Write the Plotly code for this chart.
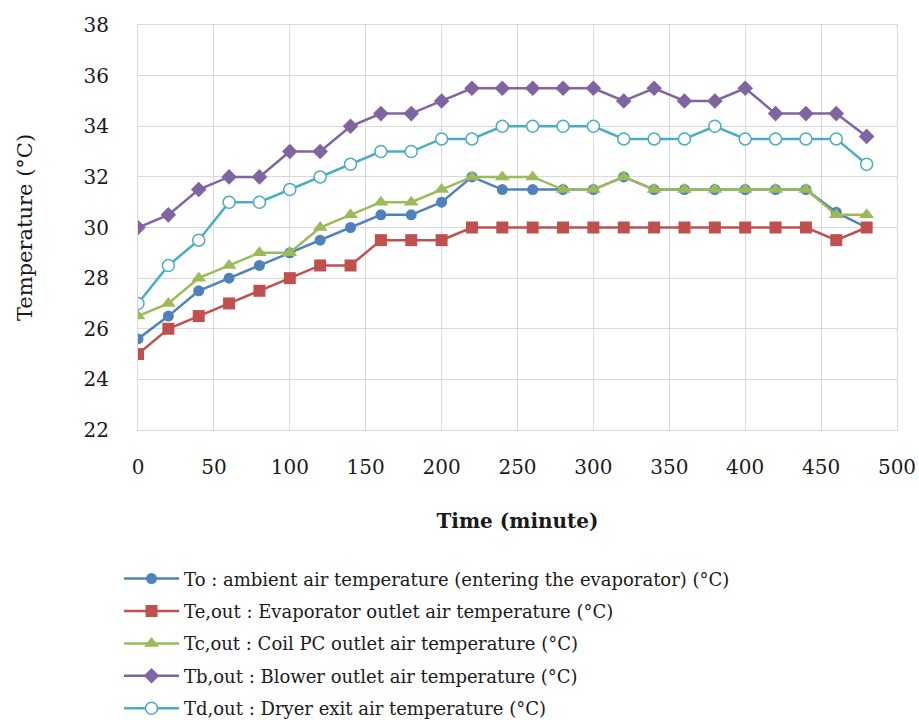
import plotly.graph_objects as go

time_min = [0, 20, 40, 60, 80, 100, 120, 140, 160, 180, 200, 220, 240,
            260, 280, 300, 320, 340, 360, 380, 400, 420, 440, 460, 480]

t_o = [25.6, 26.5, 27.5, 28.0, 28.5, 29.0, 29.5, 30.0, 30.5, 30.5, 31.0, 32.0, 31.5,
       31.5, 31.5, 31.5, 32.0, 31.5, 31.5, 31.5, 31.5, 31.5, 31.5, 30.6, 30.0]
t_e_out = [25.0, 26.0, 26.5, 27.0, 27.5, 28.0, 28.5, 28.5, 29.5, 29.5, 29.5, 30.0, 30.0,
           30.0, 30.0, 30.0, 30.0, 30.0, 30.0, 30.0, 30.0, 30.0, 30.0, 29.5, 30.0]
t_c_out = [26.5, 27.0, 28.0, 28.5, 29.0, 29.0, 30.0, 30.5, 31.0, 31.0, 31.5, 32.0, 32.0,
           32.0, 31.5, 31.5, 32.0, 31.5, 31.5, 31.5, 31.5, 31.5, 31.5, 30.5, 30.5]
t_b_out = [30.0, 30.5, 31.5, 32.0, 32.0, 33.0, 33.0, 34.0, 34.5, 34.5, 35.0, 35.5, 35.5,
           35.5, 35.5, 35.5, 35.0, 35.5, 35.0, 35.0, 35.5, 34.5, 34.5, 34.5, 33.6]
t_d_out = [27.0, 28.5, 29.5, 31.0, 31.0, 31.5, 32.0, 32.5, 33.0, 33.0, 33.5, 33.5, 34.0,
           34.0, 34.0, 34.0, 33.5, 33.5, 33.5, 34.0, 33.5, 33.5, 33.5, 33.5, 32.5]

names = [
    "To : ambient air temperature (entering the evaporator) (°C)",
    "Te,out : Evaporator outlet air temperature (°C)",
    "Tc,out : Coil PC outlet air temperature (°C)",
    "Tb,out : Blower outlet air temperature (°C)",
    "Td,out : Dryer exit air temperature (°C)",
]
y_ticks = [22, 24, 26, 28, 30, 32, 34, 36, 38]
x_ticks = [0, 50, 100, 150, 200, 250, 300, 350, 400, 450, 500]

series = [t_o, t_e_out, t_c_out, t_b_out, t_d_out]
colors = ["#4F81BD", "#C0504D", "#9BBB59", "#8064A2", "#4BACC6"]
symbols = ["circle", "square", "triangle-up", "diamond", "circle"]
sizes = [11, 12, 13, 12, 12]

fig = go.Figure()
for i, (vals, nm, c, s, sz) in enumerate(zip(series, names, colors, symbols, sizes)):
    if i == 4:
        marker = dict(symbol=s, size=sz, color="white", line=dict(color=c, width=1.5))
    else:
        marker = dict(symbol=s, size=sz, color=c, line=dict(width=0))
    fig.add_trace(go.Scatter(
        x=time_min, y=vals, name=nm, mode="lines+markers",
        line=dict(color=c, width=2.5), marker=marker,
        legendgroup=str(i),
    ))

serif = "DejaVu Serif"
fig.update_layout(
    width=919, height=720,
    margin=dict(l=138, r=22, t=25, b=290, autoexpand=False),
    paper_bgcolor="white", plot_bgcolor="white",
    font=dict(family=serif, size=20, color="#1a1a1a"),
    showlegend=True,
    legend=dict(
        x=-0.025, y=-0.322, xanchor="left", yanchor="top",
        orientation="v", traceorder="grouped", tracegroupgap=6,
        itemwidth=55,
        font=dict(family=serif, size=18, color="#1a1a1a"),
        bgcolor="rgba(0,0,0,0)",
    ),
    xaxis=dict(
        range=[0, 500], tickvals=x_ticks, showgrid=True, gridcolor="#D9D9D9",
        gridwidth=1, zeroline=False, showline=True, linecolor="#D9D9D9",
        mirror=True, ticks="", ticklabelstandoff=19, automargin=False,
        title=dict(text="<b>Time (minute)</b>", font=dict(family=serif, size=20), standoff=35),
    ),
    yaxis=dict(
        range=[22, 38], tickvals=y_ticks, showgrid=True, gridcolor="#D9D9D9",
        gridwidth=1, zeroline=False, showline=True, linecolor="#D9D9D9",
        mirror=True, ticks="", ticklabelstandoff=24, automargin=False,
        title=dict(text="Temperature (°C)", font=dict(family=serif, size=21), standoff=45),
    ),
)

fig.write_html(
    "out.html",
    config={"displayModeBar": False},
    post_script="document.body.style.margin='0';document.body.style.overflow='hidden';",
)
